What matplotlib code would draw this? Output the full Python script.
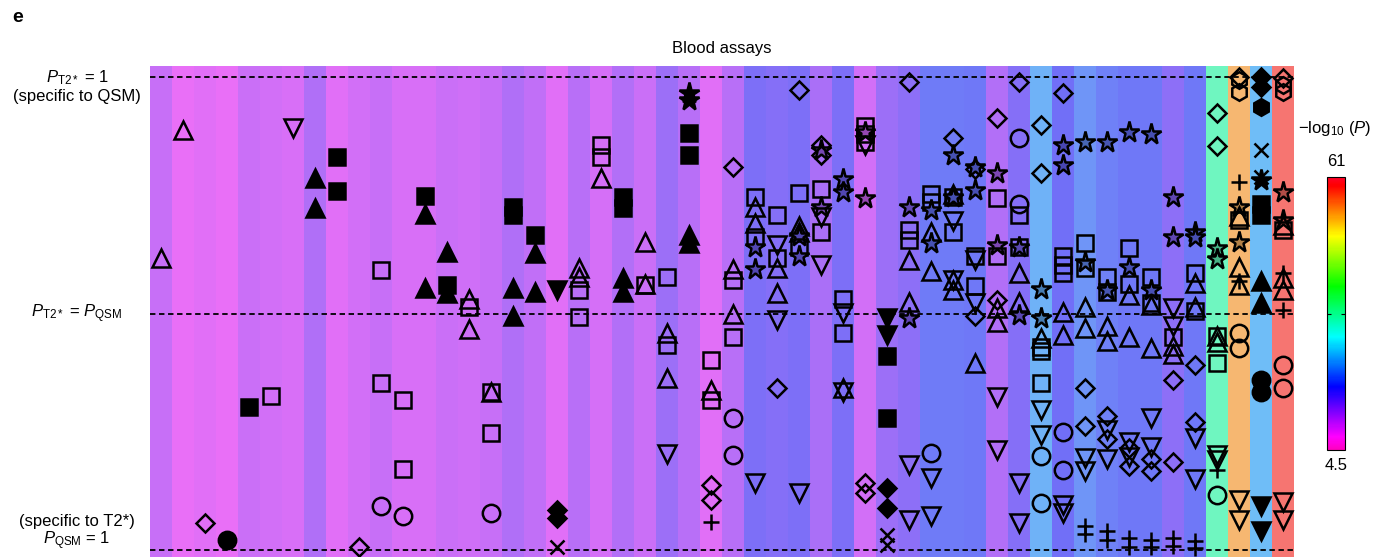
import numpy as np
import matplotlib
import matplotlib.pyplot as plt
from matplotlib import colors as mcolors
from matplotlib.cm import ScalarMappable
from matplotlib.transforms import blended_transform_factory

plt.rcParams['font.family'] = ['Liberation Sans', 'DejaVu Sans']
plt.rcParams['mathtext.fontset'] = 'custom'
plt.rcParams['mathtext.rm'] = 'Liberation Sans'
plt.rcParams['mathtext.it'] = 'Liberation Sans:italic'

# -log10(P) of each blood assay column (sets the background colour)
column_logp = [10.7, 8.2, 8.7, 8.1, 10.6, 10.0, 9.4, 12.5, 8.7, 10.0,
               10.7, 9.4, 9.4, 10.6, 10.2, 10.9, 12.5, 11.3, 8.7, 11.8,
               9.6, 12.4, 10.6, 14.1, 11.8, 8.7, 11.8, 16.5, 15.8, 16.5,
               13.0, 16.5, 10.0, 14.1, 15.2, 18.6, 18.6, 18.4, 12.4, 15.8,
               22.6, 17.5, 20.4, 19.0, 18.4, 18.4, 15.2, 18.4, 32.2, 53.7,
               23.5, 58.7]

# columns drawn with filled (black) markers
filled_columns = [3, 4, 7, 8, 12, 13, 16, 17, 18, 21, 24, 33, 50]

# (column, relative specificity: 0 = T2*, 1 = QSM, marker)
points = [
    (0, 0.617, '^'),
    (1, 0.889, '^'),
    (2, 0.057, 'D'),
    (3, 0.021, 'o'),
    (4, 0.303, 's'),
    (5, 0.326, 's'),
    (6, 0.892, 'v'),
    (7, 0.786, '^'), (7, 0.723, '^'),
    (8, 0.831, 's'), (8, 0.759, 's'),
    (9, 0.007, 'D'),
    (10, 0.592, 's'), (10, 0.353, 's'), (10, 0.092, 'o'),
    (11, 0.317, 's'), (11, 0.171, 's'), (11, 0.071, 'o'),
    (12, 0.749, 's'), (12, 0.711, '^'), (12, 0.554, '^'),
    (13, 0.631, '^'), (13, 0.561, 's'), (13, 0.543, '^'),
    (14, 0.532, '^'), (14, 0.515, 's'), (14, 0.467, '^'),
    (15, 0.335, 's'), (15, 0.335, '^'), (15, 0.247, 's'), (15, 0.079, 'o'),
    (16, 0.726, 's'), (16, 0.709, 's'), (16, 0.554, '^'), (16, 0.495, '^'),
    (17, 0.666, 's'), (17, 0.628, '^'), (17, 0.546, '^'),
    (18, 0.550, 'v'), (18, 0.085, 'D'), (18, 0.067, 'D'), (18, 0.007, 'x'),
    (19, 0.596, '^'), (19, 0.578, '^'), (19, 0.550, 's'), (19, 0.492, 's'),
    (20, 0.857, 's'), (20, 0.832, 's'), (20, 0.788, '^'),
    (21, 0.747, 's'), (21, 0.723, 's'), (21, 0.575, '^'), (21, 0.546, '^'),
    (22, 0.652, '^'), (22, 0.561, 's'), (22, 0.563, '^'),
    (23, 0.577, 's'), (23, 0.458, '^'), (23, 0.434, 's'), (23, 0.363, '^'),
    (23, 0.204, 'v'),
    (24, 0.966, '*'), (24, 0.952, '*'), (24, 0.883, 's'), (24, 0.836, 's'),
    (24, 0.666, '^'), (24, 0.649, '^'),
    (25, 0.402, 's'), (25, 0.338, '^'), (25, 0.317, 's'), (25, 0.138, 'D'),
    (25, 0.106, 'D'), (25, 0.060, '+'),
    (26, 0.811, 'D'), (26, 0.594, '^'), (26, 0.571, 's'), (26, 0.499, '^'),
    (26, 0.451, 's'), (26, 0.279, 'o'), (26, 0.201, 'o'),
    (27, 0.746, 's'), (27, 0.726, '^'), (27, 0.691, '^'), (27, 0.663, 's'),
    (27, 0.642, '*'), (27, 0.594, '*'), (27, 0.141, 'v'),
    (28, 0.709, 's'), (28, 0.645, 'v'), (28, 0.617, 's'), (28, 0.596, '^'),
    (28, 0.543, '^'), (28, 0.487, 'v'), (28, 0.342, 'D'),
    (29, 0.973, 'D'), (29, 0.756, 's'), (29, 0.685, '^'), (29, 0.673, '^'),
    (29, 0.664, '*'), (29, 0.642, 's'), (29, 0.621, '*'), (29, 0.120, 'v'),
    (30, 0.857, 'D'), (30, 0.846, '*'), (30, 0.836, 'D'), (30, 0.763, 's'),
    (30, 0.726, '*'), (30, 0.705, 'v'), (30, 0.673, 's'), (30, 0.603, 'v'),
    (31, 0.784, '*'), (31, 0.758, '*'), (31, 0.532, 's'), (31, 0.501, 'v'),
    (31, 0.460, 's'), (31, 0.342, '^'), (31, 0.335, 'v'),
    (32, 0.896, 's'), (32, 0.880, 's'), (32, 0.864, 's'), (32, 0.885, '*'),
    (32, 0.857, 'v'), (32, 0.744, '*'), (32, 0.141, 'D'), (32, 0.120, 'D'),
    (33, 0.490, 'v'), (33, 0.455, 'v'), (33, 0.410, 's'), (33, 0.279, 's'),
    (33, 0.131, 'D'), (33, 0.088, 'D'), (33, 0.032, 'x'), (33, 0.011, 'x'),
    (34, 0.991, 'D'), (34, 0.726, '*'), (34, 0.677, 's'), (34, 0.656, 's'),
    (34, 0.613, '^'), (34, 0.525, '^'), (34, 0.490, '*'), (34, 0.180, 'v'),
    (34, 0.063, 'v'),
    (35, 0.754, 's'), (35, 0.737, 's'), (35, 0.719, '*'), (35, 0.673, '^'),
    (35, 0.650, '*'), (35, 0.591, '^'), (35, 0.205, 'o'), (35, 0.152, 'v'),
    (35, 0.071, 'v'),
    (36, 0.871, 'D'), (36, 0.836, '*'), (36, 0.754, '^'), (36, 0.747, 's'),
    (36, 0.747, '*'), (36, 0.695, 'v'), (36, 0.673, 's'), (36, 0.571, '^'),
    (36, 0.571, 'v'), (36, 0.550, '^'),
    (37, 0.811, '*'), (37, 0.807, 'D'), (37, 0.762, '*'), (37, 0.621, 's'),
    (37, 0.613, 'v'), (37, 0.558, 's'), (37, 0.522, 'v'), (37, 0.494, 'D'),
    (37, 0.395, '^'),
    (38, 0.915, 'D'), (38, 0.797, '*'), (38, 0.744, 's'), (38, 0.645, '*'),
    (38, 0.621, 's'), (38, 0.529, 'D'), (38, 0.511, '^'), (38, 0.483, '^'),
    (38, 0.324, 'v'), (38, 0.212, 'v'),
    (39, 0.991, 'D'), (39, 0.871, 'o'), (39, 0.733, 'o'), (39, 0.709, 's'),
    (39, 0.642, 's'), (39, 0.642, '*'), (39, 0.585, '^'), (39, 0.525, '^'),
    (39, 0.497, '*'), (39, 0.141, 'v'), (39, 0.056, 'v'),
    (40, 0.899, 'D'), (40, 0.797, 'D'), (40, 0.552, '*'), (40, 0.490, '*'),
    (40, 0.448, '^'), (40, 0.430, 's'), (40, 0.420, 's'), (40, 0.354, 's'),
    (40, 0.296, 'v'), (40, 0.243, 'v'), (40, 0.199, 'o'), (40, 0.099, 'o'),
    (41, 0.966, 'D'), (41, 0.857, '*'), (41, 0.815, '*'), (41, 0.621, 's'),
    (41, 0.603, 's'), (41, 0.585, 's'), (41, 0.504, '^'), (41, 0.455, '^'),
    (41, 0.250, 'o'), (41, 0.169, 'o'), (41, 0.095, 'v'), (41, 0.078, 'v'),
    (42, 0.864, '*'), (42, 0.649, 's'), (42, 0.610, '*'), (42, 0.596, 's'),
    (42, 0.513, '^'), (42, 0.470, '^'), (42, 0.342, 'D'), (42, 0.262, 'D'),
    (42, 0.194, 'v'), (42, 0.166, 'v'), (42, 0.051, '+'), (42, 0.034, '+'),
    (43, 0.864, '*'), (43, 0.578, 's'), (43, 0.550, '*'), (43, 0.545, 's'),
    (43, 0.474, '^'), (43, 0.443, '^'), (43, 0.284, 'D'), (43, 0.254, 'v'),
    (43, 0.235, 'D'), (43, 0.192, 'v'), (43, 0.040, '+'), (43, 0.021, '+'),
    (44, 0.885, '*'), (44, 0.638, 's'), (44, 0.599, '*'), (44, 0.562, 's'),
    (44, 0.540, '^'), (44, 0.450, '^'), (44, 0.228, 'v'), (44, 0.216, 'D'),
    (44, 0.197, 'v'), (44, 0.177, 'D'), (44, 0.025, '+'), (44, 0.007, '+'),
    (45, 0.881, '*'), (45, 0.578, 's'), (45, 0.550, '*'), (45, 0.522, 's'),
    (45, 0.518, '^'), (45, 0.427, '^'), (45, 0.280, 'v'), (45, 0.217, 'v'),
    (45, 0.192, 'D'), (45, 0.166, 'D'), (45, 0.022, '+'), (45, 0.007, '+'),
    (46, 0.747, '*'), (46, 0.663, '*'), (46, 0.512, 'v'), (46, 0.474, 'v'),
    (46, 0.451, 's'), (46, 0.432, '^'), (46, 0.414, '^'), (46, 0.360, 'D'),
    (46, 0.187, 'D'), (46, 0.025, '+'), (46, 0.008, '+'),
    (47, 0.673, '*'), (47, 0.663, '*'), (47, 0.585, 's'), (47, 0.564, '^'),
    (47, 0.515, '^'), (47, 0.506, 's'), (47, 0.391, 'D'), (47, 0.270, 'D'),
    (47, 0.237, 'v'), (47, 0.150, 'v'), (47, 0.018, '+'), (47, 0.004, '+'),
    (48, 0.924, 'D'), (48, 0.855, 'D'), (48, 0.638, '*'), (48, 0.615, '*'),
    (48, 0.453, 's'), (48, 0.453, '^'), (48, 0.441, '^'), (48, 0.395, 's'),
    (48, 0.201, 'v'), (48, 0.190, 'v'), (48, 0.169, '+'), (48, 0.116, 'o'),
    (49, 1.000, 'D'), (49, 0.994, 'h'), (49, 0.970, 'h'), (49, 0.779, '+'),
    (49, 0.726, '*'), (49, 0.706, '^'), (49, 0.698, 's'), (49, 0.652, '*'),
    (49, 0.599, '^'), (49, 0.568, '+'), (49, 0.560, '^'), (49, 0.458, 'o'),
    (49, 0.427, 'o'), (49, 0.106, 'v'), (49, 0.063, 'v'),
    (50, 1.000, 'D'), (50, 0.980, 'D'), (50, 0.938, 'h'), (50, 0.846, 'x'),
    (50, 0.789, 'x'), (50, 0.783, '*'), (50, 0.733, 's'), (50, 0.709, 's'),
    (50, 0.568, '^'), (50, 0.522, '^'), (50, 0.360, 'o'), (50, 0.335, 'o'),
    (50, 0.092, 'v'), (50, 0.039, 'v'),
    (51, 0.998, 'D'), (51, 0.984, 'h'), (51, 0.970, 'h'), (51, 0.758, '*'),
    (51, 0.698, '*'), (51, 0.677, 's'), (51, 0.688, '^'), (51, 0.585, '+'),
    (51, 0.575, '^'), (51, 0.550, '^'), (51, 0.508, '+'), (51, 0.391, 'o'),
    (51, 0.342, 'o'), (51, 0.102, 'v'), (51, 0.063, 'v'),
]

vmin, vmax = 4.5, 61
cmap = plt.get_cmap('gist_rainbow_r')
norm = mcolors.Normalize(vmin, vmax)
bg_alpha = 0.6

W, H = 1387, 557
fig = plt.figure(figsize=(W / 100, H / 100), dpi=100)
ax = fig.add_axes([150 / W, 0, 1144 / W, 491 / H])
ax.set_xlim(-0.5, len(column_logp) - 0.5)
ax.set_ylim(-0.015, 1.024)
ax.axis('off')

for i, v in enumerate(column_logp):
    c = np.array(mcolors.to_rgb(cmap(norm(v))))
    # soften the magenta end a little, as in the printed figure
    c = 0.88 * c + 0.12 * np.array([0.5, 0.5, 0.6])
    ax.axvspan(i - 0.5, i + 0.5, color=c, alpha=bg_alpha, lw=0, zorder=0)

for y in (0, 0.5, 1):
    ax.axhline(y, color='black', ls=(0, (3, 2)), lw=1.3, zorder=1)

sizes = {'^': 12.5, 'v': 12.5, 's': 11.5, 'o': 12.5, 'D': 9, '*': 15.5,
         '+': 12, 'x': 10, 'h': 12}


def star_face(v):
    c = np.array(mcolors.to_rgb(cmap(norm(v))))
    c = 1 - bg_alpha + bg_alpha * c
    return tuple(c * 0.7)


for col, y, m in points:
    filled = col in filled_columns
    if filled:
        face = 'black'
    elif m == '*':
        face = star_face(column_logp[col])
    else:
        face = 'none'
    ax.plot(col, y, marker=m, ms=sizes[m], mfc=face, mec='black',
            mew=1.8, ls='none', zorder=3)

# left side labels
tr = blended_transform_factory(fig.transFigure, ax.transData)
lx = 77 / W
ax.text(lx, 1.0, r'$P_{\mathrm{T2*}}$ = 1', transform=tr, ha='center', va='center', fontsize=12)
ax.text(lx, 0.960, '(specific to QSM)', transform=tr, ha='center', va='center', fontsize=12)
ax.text(lx, 0.5, r'$P_{\mathrm{T2*}}$ = $P_{\mathrm{QSM}}$', transform=tr, ha='center', va='center', fontsize=12)
ax.text(lx, 0.061, '(specific to T2*)', transform=tr, ha='center', va='center', fontsize=12)
ax.text(lx, 0.019, r'$P_{\mathrm{QSM}}$ = 1', transform=tr, ha='center', va='center', fontsize=12)

fig.text(722 / W, 1 - 48 / H, 'Blood assays', ha='center', va='center', fontsize=12)
fig.text(12 / W, 1 - 18 / H, 'e', ha='left', va='center', fontsize=14, fontweight='bold')

# colour bar
cax = fig.add_axes([1327 / W, (H - 450) / H, 18 / W, 273 / H])
cb = fig.colorbar(ScalarMappable(norm=norm, cmap=cmap), cax=cax)
cb.set_ticks([(vmin + vmax) / 2])
cax.tick_params(direction='in', length=3, width=0.8, left=True, right=True,
                labelright=False, labelleft=False)
cb.outline.set_linewidth(0.8)
cax.text(0.5, 1.03, '61', transform=cax.transAxes, ha='center', va='bottom', fontsize=12)
cax.text(0.5, -0.03, '4.5', transform=cax.transAxes, ha='center', va='top', fontsize=12)
fig.text(1335 / W, 1 - 128 / H, r'$-$log$_{10}$ ($P$)', ha='center', va='center', fontsize=12)

fig.savefig('out.png', dpi=100)
